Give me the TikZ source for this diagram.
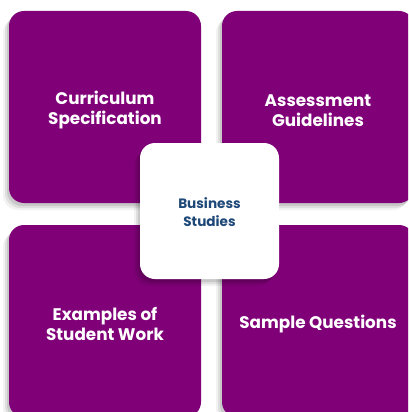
\documentclass[tikz,border=0pt]{standalone}
\usepackage{fontspec}
\setmainfont{Poppins}
\usetikzlibrary{shadows}
\definecolor{tilepurple}{RGB}{128,0,120}
\definecolor{centerblue}{RGB}{30,72,120}
\newcommand\tileup{\rule{0pt}{20pt}}
\newcommand\hubup{\rule{0pt}{14pt}}
\tikzset{
  softshadow/.style={
    general shadow={shadow xshift=-2pt,shadow yshift=-3pt,fill=black,opacity=0.10},
    general shadow={shadow xshift=-4pt,shadow yshift=-5pt,fill=black,opacity=0.08},
    general shadow={shadow xshift=-6pt,shadow yshift=-7pt,fill=black,opacity=0.05}},
  tile/.style={softshadow,fill=tilepurple,rounded corners=15pt,minimum width=192pt,minimum height=192pt,
    inner sep=0pt,text=white,font=\bfseries\fontsize{16.8}{20}\selectfont,align=center},
  hub/.style={softshadow,fill=white,rounded corners=15pt,minimum width=139pt,minimum height=136pt,
    inner sep=0pt,text=centerblue,font=\bfseries\fontsize{13.6}{18}\selectfont,align=center}
}
\begin{document}
\begin{tikzpicture}[x=1pt,y=-1pt]
\clip (0,0) rectangle (408,412);
\fill[white] (0,0) rectangle (408,412);
\node[tile] (cs) at (105,107) {\tileup Curriculum\\Specification};
\node[tile] (ag) at (318,107) {\tileup Assessment\\Guidelines};
\node[tile] (es) at (105,321) {\tileup Examples of\\Student Work};
\node[tile] (sq) at (318,321) {\tileup Sample Questions};
\node[hub] (bs) at (209.5,211) {\hubup Business\\Studies};
\end{tikzpicture}
\end{document}
